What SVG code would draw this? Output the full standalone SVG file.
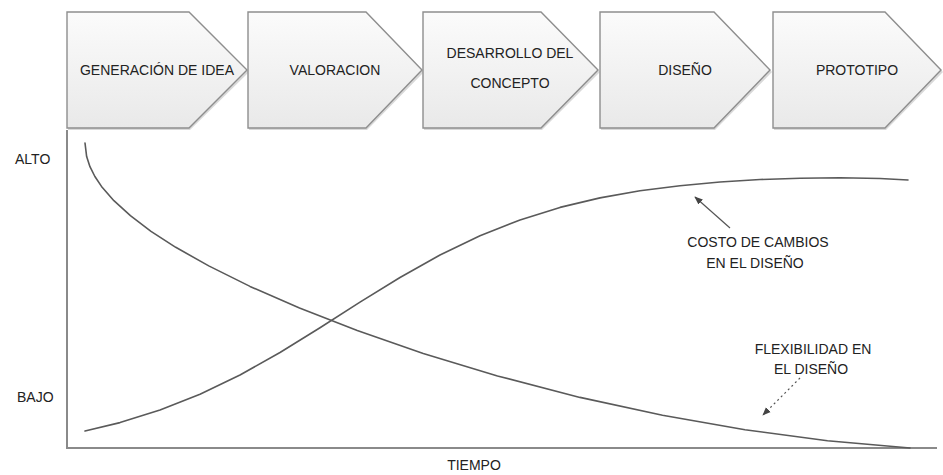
<svg xmlns="http://www.w3.org/2000/svg" width="943" height="475" viewBox="0 0 943 475">
  <style>
    .stage { fill: url(#stageFill); stroke: #8e8e8e; stroke-width: 1.4; }
    .stage-shadow { fill: #d9d9d9; }
    .lbl { font-family: "Liberation Sans", Arial, sans-serif; font-size: 14px; fill: #222; text-anchor: middle; }
    .axis-lbl { font-family: "Liberation Sans", Arial, sans-serif; font-size: 14px; fill: #222; }
    .axis { stroke: #8a8a8a; stroke-width: 2; fill: none; }
    .curve { stroke: #5a5a5a; stroke-width: 1.6; fill: none; stroke-linejoin: round; stroke-linecap: round; }
    .pointer { stroke: #555; stroke-width: 1.2; fill: none; }
  </style>
  <defs>
    <linearGradient id="stageFill" x1="0" y1="0" x2="0" y2="1">
      <stop offset="0" stop-color="#fbfbfb"/>
      <stop offset="1" stop-color="#e9e9e9"/>
    </linearGradient>
    <marker id="head" viewBox="0 0 10 10" refX="9" refY="5" markerWidth="7" markerHeight="7" orient="auto">
      <path d="M0,1 L10,5 L0,9 z" fill="#444"/>
    </marker>
  </defs>

  <rect width="943" height="475" fill="#ffffff"/>

  <!-- process stages -->
  <g id="stage-generacion">
    <path class="stage-shadow" d="M68,14 H190 L249,72 L190,130 H68 Z"/>
    <path class="stage" d="M67,12 H189 L247,70 L189,128 H67 Z"/>
    <text class="lbl" x="157" y="75">GENERACIÓN DE IDEA</text>
  </g>
  <g id="stage-valoracion">
    <path class="stage-shadow" d="M249,14 H367 L424,72 L367,130 H249 Z"/>
    <path class="stage" d="M248,12 H366 L422,70 L366,128 H248 Z"/>
    <text class="lbl" x="335" y="75">VALORACION</text>
  </g>
  <g id="stage-desarrollo">
    <path class="stage-shadow" d="M424,14 H542 L600,72 L542,130 H424 Z"/>
    <path class="stage" d="M423,12 H541 L598,70 L541,128 H423 Z"/>
    <text class="lbl" x="510" y="58">DESARROLLO DEL</text>
    <text class="lbl" x="510" y="88">CONCEPTO</text>
  </g>
  <g id="stage-diseno">
    <path class="stage-shadow" d="M601,14 H715 L772,72 L715,130 H601 Z"/>
    <path class="stage" d="M600,12 H714 L770,70 L714,128 H600 Z"/>
    <text class="lbl" x="685" y="75">DISEÑO</text>
  </g>
  <g id="stage-prototipo">
    <path class="stage-shadow" d="M774,14 H886 L943,72 L886,130 H774 Z"/>
    <path class="stage" d="M773,12 H885 L941,70 L885,128 H773 Z"/>
    <text class="lbl" x="857" y="75">PROTOTIPO</text>
  </g>

  <!-- chart axes -->
  <g id="axes">
    <path class="axis" d="M67,130 V448 H937"/>
    <text class="axis-lbl" x="15" y="164">ALTO</text>
    <text class="axis-lbl" x="17" y="402">BAJO</text>
    <text class="lbl" x="474" y="470">TIEMPO</text>
  </g>

  <!-- trend curves -->
  <g id="curve-flexibilidad">
    <polyline class="curve" points="85,143 86.65,156.6 89.95,166.7 94.9,176.5 101.5,186.4 113.9,200.7 130.4,215.7 151,231.3 175.75,247.3 208.75,265.9 250,286.4 299.5,308.1 357.25,330.6 423.25,353.4 497.5,375.9 580,397.4 662.5,415.3 745,429.8 827.5,440.7 910,448"/>
  </g>
  <g id="curve-costo">
    <polyline class="curve" points="85,431 120,422.6 160,410.1 200,394.3 240,375 280,352.5 320,327.8 360,302.2 400,277.5 440,255 480,235.7 520,219.9 560,207.4 600,197.9 640,190.8 680,185.7 720,182 760,179.5 800,178.2 840,177.8 880,178.5 908,180"/>
  </g>

  <!-- curve labels -->
  <g id="label-costo">
    <text class="lbl" x="758" y="247">COSTO DE CAMBIOS</text>
    <text class="lbl" x="755" y="268">EN EL DISEÑO</text>
  </g>
  <g id="label-flexibilidad">
    <text class="lbl" x="813" y="354">FLEXIBILIDAD EN</text>
    <text class="lbl" x="811" y="374">EL DISEÑO</text>
  </g>

  <!-- label pointers -->
  <g id="connectors">
    <line class="pointer" x1="730" y1="228" x2="695" y2="197" marker-end="url(#head)"/>
    <line class="pointer" x1="800" y1="378" x2="763" y2="415" stroke-dasharray="2 3" marker-end="url(#head)"/>
  </g>
</svg>
